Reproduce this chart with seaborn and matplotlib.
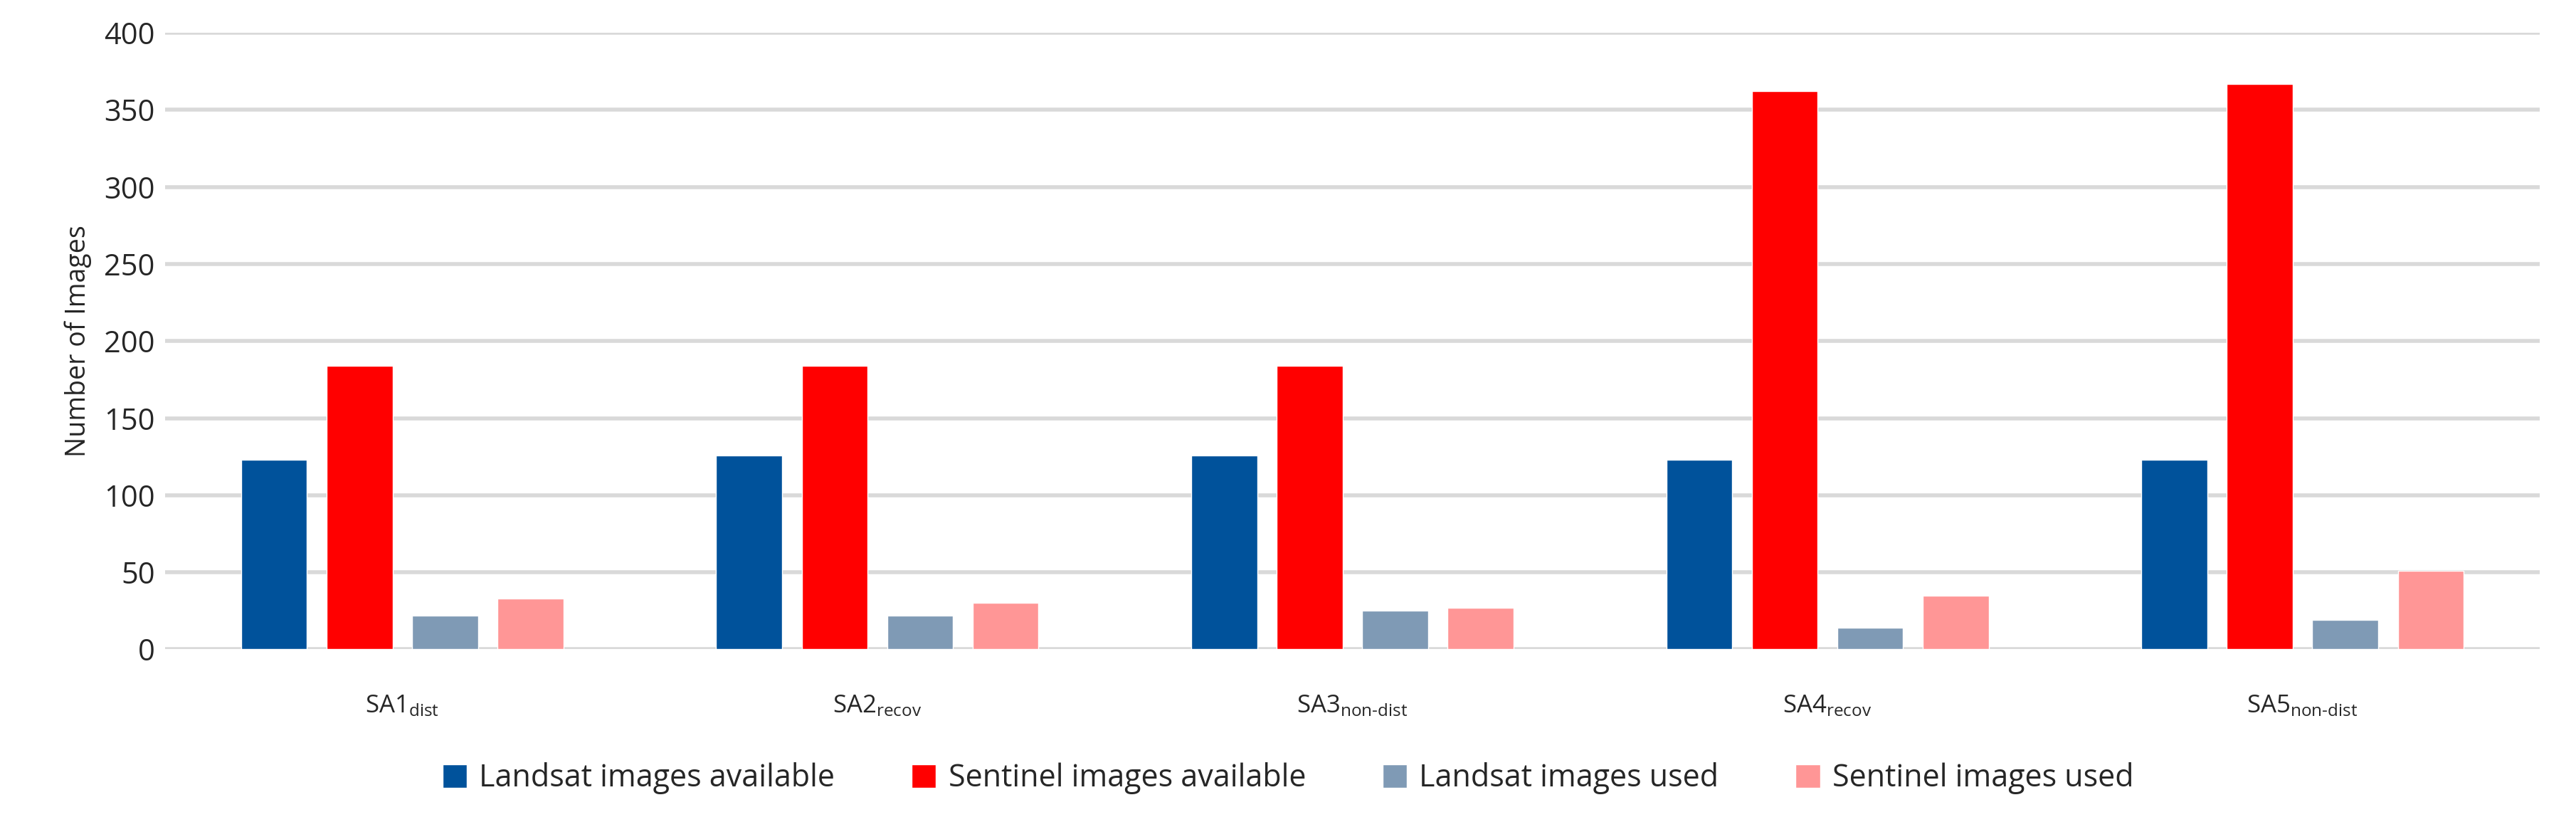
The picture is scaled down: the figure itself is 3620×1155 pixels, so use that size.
import matplotlib
matplotlib.use("Agg")
import matplotlib.pyplot as plt
import seaborn as sns
import pandas as pd

categories = ["SA1", "SA2", "SA3", "SA4", "SA5"]
subscripts = ["dist", "recov", "non-dist", "recov", "non-dist"]
series = ["Landsat images available", "Sentinel images available", "Landsat images used", "Sentinel images used"]
landsat_avail = [123, 126, 126, 123, 123]
sentinel_avail = [184, 184, 184, 362, 367]
landsat_used = [22, 22, 25, 14, 19]
sentinel_used = [33, 30, 27, 35, 51]
colors = ["#00529B", "#FF0000", "#7F9AB5", "#FF9696"]

sns.set_theme(style="white")
plt.rcParams['font.family'] = ['Open Sans', 'DejaVu Sans']
plt.rcParams['mathtext.fontset'] = 'custom'
plt.rcParams['mathtext.rm'] = 'Open Sans'
plt.rcParams['mathtext.it'] = 'Open Sans'

rows = []
for s, vals in zip(series, [landsat_avail, sentinel_avail, landsat_used, sentinel_used]):
    for c, v in zip(categories, vals):
        rows.append({"cat": c, "series": s, "value": v})
df = pd.DataFrame(rows)

fig = plt.figure(figsize=(36.2, 11.55), dpi=100)
ax = fig.add_axes([0.064, 0.21, 0.922, 0.75])
sns.barplot(data=df, x="cat", y="value", hue="series", palette=colors, width=0.72,
            ax=ax, saturation=1, legend=True)
for p in ax.patches:
    w = p.get_width()
    if w > 0:
        nw = w * 0.77
        p.set_x(p.get_x() + (w - nw) / 2)
        p.set_width(nw)

ax.set_ylim(0, 400)
ax.set_xlim(-0.5, 4.5)
ax.set_yticks(range(0, 401, 50))
ax.yaxis.grid(True, color="#D9D9D9", linewidth=4)
ax.set_axisbelow(True)
for sp in ax.spines.values():
    sp.set_visible(False)
ax.set_xticks(range(5))
def sub(s):
    return "\\text{" + s + "}"
ax.set_xticklabels([f"{c}$_{{{sub(s)}}}$" for c, s in zip(categories, subscripts)], fontsize=25)
ax.tick_params(axis='x', pad=45, length=0)
ax.tick_params(axis='y', labelsize=30, length=0, pad=10)
ax.set_xlabel("")
ax.set_ylabel("Number of Images", fontsize=27, labelpad=12)
h, l = ax.get_legend_handles_labels()
ax.get_legend().remove()
fig.legend(h, l, loc="lower center", ncol=4, frameon=False, fontsize=31,
           bbox_to_anchor=(0.5, 0.0), handlelength=0.8, handleheight=0.8, columnspacing=2.5, handletextpad=0.4)
fig.savefig("out.png", dpi=100)
